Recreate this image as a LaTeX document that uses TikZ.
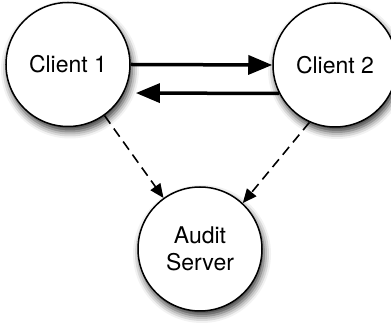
\documentclass[tikz,border=0pt]{standalone}
\usepackage{fontspec}
\setmainfont{TeX Gyre Heros}
\usetikzlibrary{arrows.meta,shadows.blur}
\tikzset{
    peer/.style={shape=circle,draw=black,line width=1.5pt,fill=white,minimum size=124pt,inner sep=0pt,align=center,
        font=\fontsize{23}{27}\selectfont,
        blur shadow={shadow xshift=2pt,shadow yshift=-5pt,shadow blur radius=7pt,shadow opacity=80}},
    msg/.style={-{Triangle[length=24pt,width=19pt]},line width=3.5pt},
    audit/.style={-{Triangle[length=14pt,width=12pt]},line width=1.6pt,dash pattern=on 10pt off 6pt}
}
\begin{document}
\begin{tikzpicture}[x=1pt,y=1pt]
    \useasboundingbox (0,0) rectangle (391,326);

    \node[peer] (Client1) at (68,261.5) {Client 1};
    \node[peer] (Client2) at (335,261) {Client 2};
    \node[peer] (Audit) at (200,77) {Audit\\Server};

    \path [msg] (Client1.east) edge (Client2.west);
    \path [msg] (Client2.207) edge[shorten >=12pt] (Client1.333);

    \path [audit] (Client1) edge (Audit);
    \path [audit] (Client2.246) edge (Audit.47);
\end{tikzpicture}
\end{document}
